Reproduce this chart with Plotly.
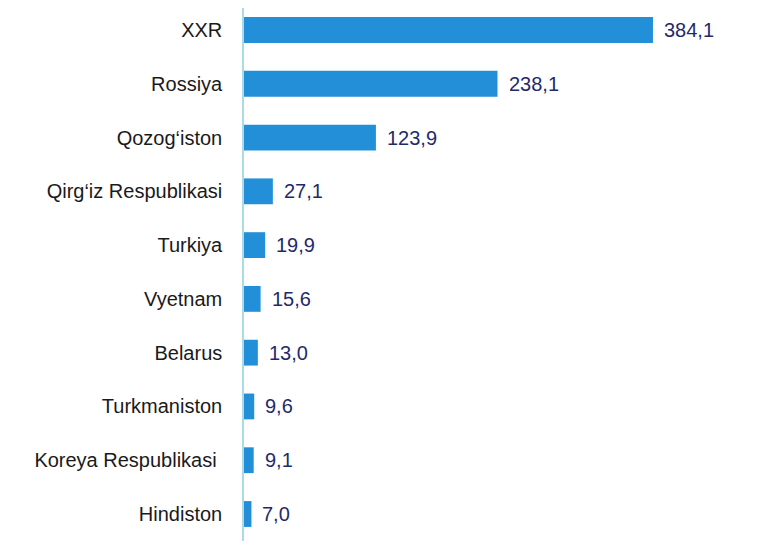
import plotly.graph_objects as go

# Categories and values (top to bottom)
countries = ["XXR", "Rossiya", "Qozog‘iston", "Qirg‘iz Respublikasi", "Turkiya",
             "Vyetnam", "Belarus", "Turkmaniston", "Koreya Respublikasi ", "Hindiston"]
values = [384.1, 238.1, 123.9, 27.1, 19.9, 15.6, 13.0, 9.6, 9.1, 7.0]
value_labels = ["384,1", "238,1", "123,9", "27,1", "19,9", "15,6", "13,0", "9,6", "9,1", "7,0"]

bar_color = "#228fd8"
label_color = "#1f2a6b"
font_family = "Liberation Sans, Arial"

fig = go.Figure()
fig.add_trace(go.Bar(
    x=values,
    y=countries,
    orientation="h",
    marker=dict(color=bar_color, line=dict(width=0)),
    hoverinfo="skip",
))

# value labels to the right of the bars
for c, v, t in zip(countries, values, value_labels):
    fig.add_annotation(
        x=v, y=c, text=t, showarrow=False,
        xanchor="left", yanchor="middle", xshift=9,
        font=dict(family=font_family, size=20, color=label_color),
    )

fig.update_layout(
    width=766, height=549,
    margin=dict(l=236, r=20, t=0, b=16),
    paper_bgcolor="white",
    plot_bgcolor="white",
    bargap=0.52,
    showlegend=False,
    font=dict(family=font_family, size=20, color="#1a1a1a"),
    xaxis=dict(range=[0, 479], visible=False, showgrid=False, zeroline=False),
    yaxis=dict(
        categoryorder="array", categoryarray=countries[::-1],
        range=[-0.502, 9.409],
        showline=True, linecolor="#a9dbe8", linewidth=1.5,
        showgrid=False, ticks="", ticklabelstandoff=16,
    ),
)

fig.write_html("out.html")
